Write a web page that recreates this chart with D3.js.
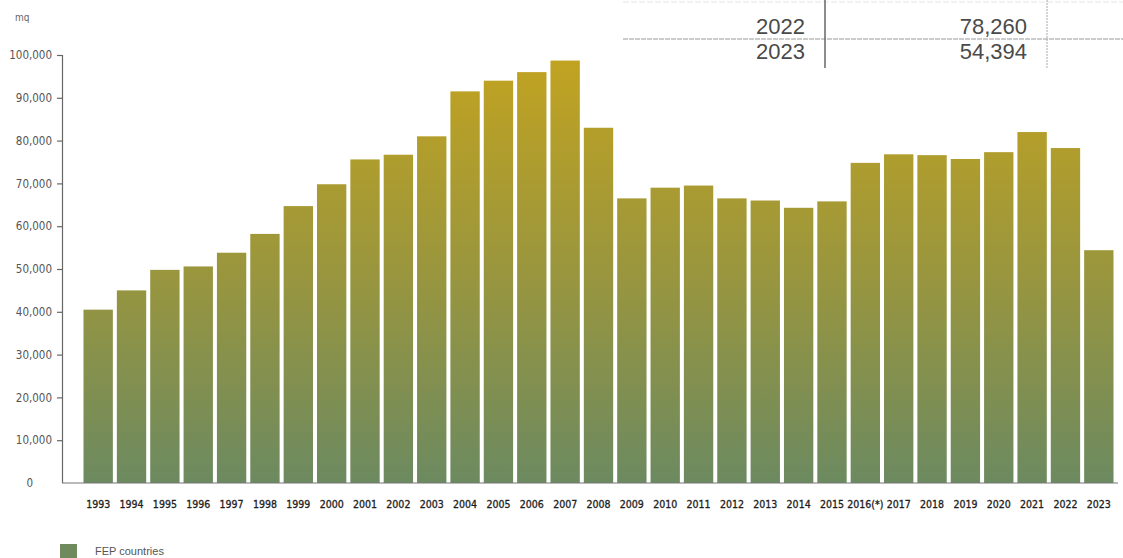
<!DOCTYPE html>
<html>
<head>
<meta charset="utf-8">
<script src="https://cdn.jsdelivr.net/npm/d3@7"></script>
<style>
  html, body { margin: 0; padding: 0; background: #fff; }
  svg { display: block; }
</style>
</head>
<body>
<svg id="chart" width="1123" height="558"></svg>
<script>
const years = ["1993","1994","1995","1996","1997","1998","1999","2000","2001","2002","2003","2004","2005","2006","2007","2008","2009","2010","2011","2012","2013","2014","2015","2016(*)","2017","2018","2019","2020","2021","2022","2023"];
const values = [40500,45000,49800,50600,53800,58200,64700,69800,75600,76700,81000,91500,94000,96000,98700,83000,66500,69000,69500,66500,66000,64300,65800,74800,76800,76600,75700,77300,82000,78260,54394];
const yTicks = [0,10000,20000,30000,40000,50000,60000,70000,80000,90000,100000];
const unitLabel = "mq";
const legendLabel = "FEP countries";
const tableYears = ["2022","2023"];
const tableValues = [78260,54394];

const svg = d3.select("#chart");
const fmt = d3.format(",");

const x = d3.scaleBand().domain(years).range([81.5, 1115.5]).paddingInner(0.12).paddingOuter(0.06);
const y = d3.scaleLinear().domain([0, 100000]).range([483, 55]);

// gradient
const defs = svg.append("defs");
const grad = defs.append("linearGradient").attr("id", "barGrad")
  .attr("gradientUnits", "userSpaceOnUse")
  .attr("x1", 0).attr("x2", 0).attr("y1", y(100000)).attr("y2", y(0));
grad.append("stop").attr("offset", "0%").attr("stop-color", "#c2a320");
grad.append("stop").attr("offset", "50%").attr("stop-color", "#9a963d");
grad.append("stop").attr("offset", "100%").attr("stop-color", "#6c8a60");

// bars
svg.append("g").selectAll("rect").data(values).join("rect")
  .attr("x", (d, i) => x(years[i]))
  .attr("width", x.bandwidth())
  .attr("y", d => y(d))
  .attr("height", d => y(0) - y(d))
  .attr("fill", "url(#barGrad)");

// y axis
const yAxis = d3.axisLeft(y).tickValues(yTicks).tickFormat(fmt).tickSize(5).tickPadding(5);
const gy = svg.append("g").attr("transform", "translate(62,0)").call(yAxis);
gy.select(".domain").attr("stroke", "#666").attr("stroke-width", 1.2).attr("d", "M-5,55.5H0.5V483");
gy.selectAll(".tick line").attr("stroke", "#666").attr("stroke-width", 1.2);
gy.selectAll(".tick").filter(d => d === 0).select("line").remove();
gy.selectAll(".tick").filter(d => d === 0).select("text").attr("x", -29);
gy.selectAll(".tick text").attr("fill", "#555").style("font-family", "'DejaVu Sans Condensed', 'DejaVu Sans', sans-serif").style("font-size", "11.5px");

// x baseline
svg.append("line").attr("x1", 62).attr("x2", 1118).attr("y1", y(0)).attr("y2", y(0))
  .attr("stroke", "#777").attr("stroke-width", 1.2);

// x labels
const xAxis = d3.axisBottom(x).tickSize(0).tickPadding(0);
const gx = svg.append("g").attr("transform", "translate(0,501)").call(xAxis);
gx.select(".domain").remove();
gx.selectAll(".tick text").attr("fill", "#1e1e1e").attr("stroke", "#1e1e1e").attr("stroke-width", 0.3)
  .style("font-family", "'DejaVu Sans Condensed', 'DejaVu Sans', sans-serif")
  .style("font-size", "10.5px");

// unit label
svg.append("text").attr("x", 15).attr("y", 21).text(unitLabel)
  .attr("fill", "#666").style("font-family", "'DejaVu Sans Condensed', 'DejaVu Sans', sans-serif").style("font-size", "10px");

// legend
svg.append("rect").attr("x", 60).attr("y", 544).attr("width", 17).attr("height", 14).attr("fill", "#6f8a5c");
svg.append("text").attr("x", 95).attr("y", 555).text(legendLabel)
  .attr("fill", "#555").style("font-family", "'Liberation Sans', Arial, sans-serif").style("font-size", "11px");

// top table
const tg = svg.append("g");
tg.append("line").attr("x1", 623).attr("x2", 1123).attr("y1", 2).attr("y2", 2)
  .attr("stroke", "#e6e6e6").attr("stroke-width", 1).attr("stroke-dasharray", "6,2");
tg.append("line").attr("x1", 623).attr("x2", 1123).attr("y1", 39).attr("y2", 39)
  .attr("stroke", "#999").attr("stroke-width", 1).attr("stroke-dasharray", "5,1");
tg.append("line").attr("x1", 825).attr("x2", 825).attr("y1", 0).attr("y2", 68)
  .attr("stroke", "#666").attr("stroke-width", 1.5);
tg.append("line").attr("x1", 1047).attr("x2", 1047).attr("y1", 0).attr("y2", 68)
  .attr("stroke", "#aaa").attr("stroke-width", 1).attr("stroke-dasharray", "2,1");
const rowBase = [34, 59];
tableYears.forEach((yr, i) => {
  tg.append("text").attr("x", 805).attr("y", rowBase[i]).attr("text-anchor", "end").text(yr)
    .attr("fill", "#4a4a4a").style("font-family", "'Liberation Sans', Arial, sans-serif").style("font-size", "22px");
  tg.append("text").attr("x", 1027).attr("y", rowBase[i]).attr("text-anchor", "end").text(fmt(tableValues[i]))
    .attr("fill", "#4a4a4a").style("font-family", "'Liberation Sans', Arial, sans-serif").style("font-size", "22px");
});
</script>
</body>
</html>
